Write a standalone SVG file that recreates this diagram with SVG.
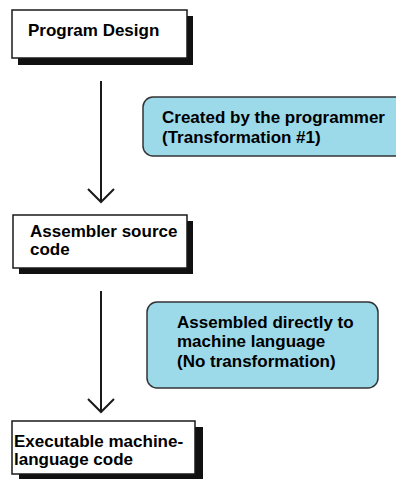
<svg xmlns="http://www.w3.org/2000/svg" width="396" height="479" viewBox="0 0 396 479">
  <style>
    .box { fill: #ffffff; stroke: #1a1a1a; stroke-width: 1.5; }
    .shadow { fill: #111111; }
    .callout { fill: #9cd9e9; stroke: #333333; stroke-width: 1.5; }
    .t { font-family: "Liberation Sans", Arial, sans-serif; font-weight: bold; font-size: 17px; fill: #000000; }
    .conn { stroke: #1a1a1a; stroke-width: 2; fill: none; }
  </style>
  <rect width="396" height="479" fill="#ffffff"/>
  <g id="connectors">
    <line class="conn" x1="101" y1="81" x2="101" y2="202"/>
    <polyline class="conn" points="88,189 101,202 114,189"/>
    <line class="conn" x1="101" y1="291" x2="101" y2="412"/>
    <polyline class="conn" points="88,399 101,412 114,399"/>
  </g>
  <g id="node-program-design">
    <rect class="shadow" x="18" y="16" width="175" height="49"/>
    <rect class="box" x="12" y="10" width="175" height="48"/>
    <text class="t" x="28" y="36">Program Design</text>
  </g>
  <g id="note-created">
    <rect class="callout" x="143" y="97" width="262" height="59" rx="10" ry="10"/>
    <text class="t" x="162" y="123">Created by the programmer</text>
    <text class="t" x="162" y="143">(Transformation #1)</text>
  </g>
  <g id="node-assembler-source">
    <rect class="shadow" x="19" y="221" width="174" height="53"/>
    <rect class="box" x="13" y="215" width="174" height="53"/>
    <text class="t" x="30" y="237">Assembler source</text>
    <text class="t" x="30" y="255">code</text>
  </g>
  <g id="note-assembled">
    <rect class="callout" x="147" y="302" width="231" height="86" rx="10" ry="10"/>
    <text class="t" x="177" y="328">Assembled directly to</text>
    <text class="t" x="177" y="347">machine language</text>
    <text class="t" x="177" y="367">(No transformation)</text>
  </g>
  <g id="node-executable">
    <rect class="shadow" x="19" y="427" width="184" height="60"/>
    <rect class="box" x="12" y="421" width="183" height="53"/>
    <text class="t" x="14" y="447">Executable machine-</text>
    <text class="t" x="14" y="465">language code</text>
  </g>
</svg>
